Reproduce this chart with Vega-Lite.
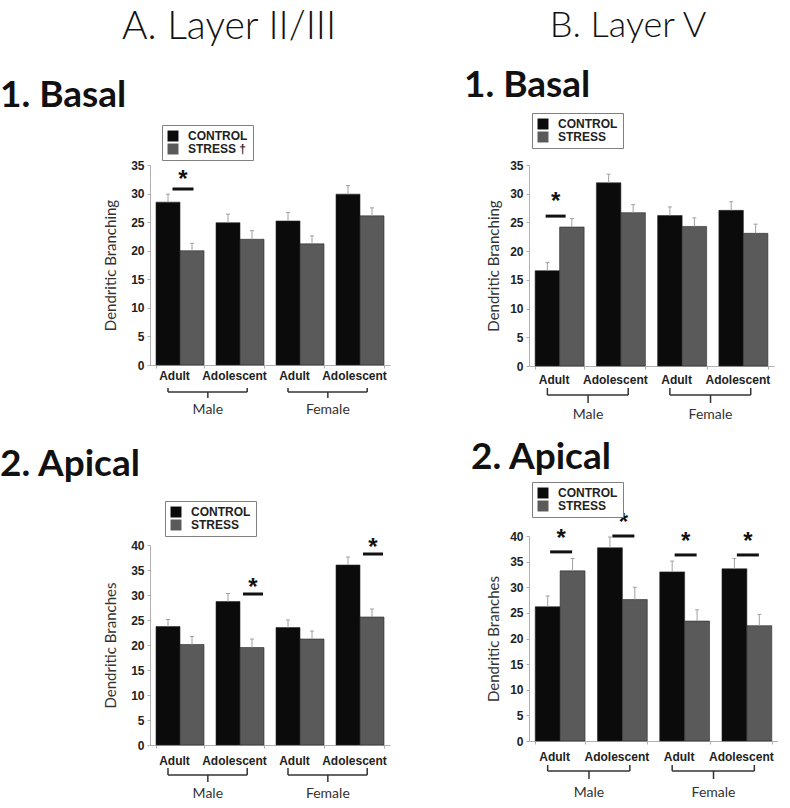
{
  "$schema": "https://vega.github.io/schema/vega-lite/v6.json",
  "background": "white",
  "padding": {"left": 0, "top": 7, "right": 0, "bottom": 0},
  "config": {
    "view": {"stroke": null},
    "font": "Lato",
    "axis": {"domainColor": "#b0b0b0", "tickColor": "#b0b0b0", "tickSize": 3, "labelFont": "Liberation Sans", "labelFontWeight": "bold", "labelFontSize": 12, "labelColor": "#222", "titleFont": "Lato", "titleFontWeight": "normal", "titleFontSize": 15, "titleColor": "#333", "grid": false},
    "axisY": {"labelOverlap": false, "tickCount": 10},
    "tick": {"opacity": 1},
    "legend": {"strokeColor": "#808080", "fillColor": "white", "padding": 5, "symbolType": "square", "symbolSize": 120, "symbolStrokeWidth": 0, "labelFont": "Liberation Sans", "labelFontWeight": "bold", "labelFontSize": 12, "labelColor": "#222", "rowPadding": 1, "labelOffset": 9}
  },
  "datasets": {
    "A1": [
      {"grp": "Male Adult", "cond": "CONTROL", "value": 28.5, "hi": 29.9},
      {"grp": "Male Adult", "cond": "STRESS", "value": 20.0, "hi": 21.3},
      {"grp": "Male Adolescent", "cond": "CONTROL", "value": 24.9, "hi": 26.4},
      {"grp": "Male Adolescent", "cond": "STRESS", "value": 22.0, "hi": 23.5},
      {"grp": "Female Adult", "cond": "CONTROL", "value": 25.2, "hi": 26.7},
      {"grp": "Female Adult", "cond": "STRESS", "value": 21.2, "hi": 22.6},
      {"grp": "Female Adolescent", "cond": "CONTROL", "value": 29.9, "hi": 31.4},
      {"grp": "Female Adolescent", "cond": "STRESS", "value": 26.1, "hi": 27.5}
    ],
    "B1": [
      {"grp": "Male Adult", "cond": "CONTROL", "value": 16.6, "hi": 18.0},
      {"grp": "Male Adult", "cond": "STRESS", "value": 24.2, "hi": 25.7},
      {"grp": "Male Adolescent", "cond": "CONTROL", "value": 31.9, "hi": 33.4},
      {"grp": "Male Adolescent", "cond": "STRESS", "value": 26.7, "hi": 28.1},
      {"grp": "Female Adult", "cond": "CONTROL", "value": 26.2, "hi": 27.7},
      {"grp": "Female Adult", "cond": "STRESS", "value": 24.3, "hi": 25.8},
      {"grp": "Female Adolescent", "cond": "CONTROL", "value": 27.1, "hi": 28.6},
      {"grp": "Female Adolescent", "cond": "STRESS", "value": 23.1, "hi": 24.7}
    ],
    "A2": [
      {"grp": "Male Adult", "cond": "CONTROL", "value": 23.7, "hi": 25.1},
      {"grp": "Male Adult", "cond": "STRESS", "value": 20.1, "hi": 21.7},
      {"grp": "Male Adolescent", "cond": "CONTROL", "value": 28.7, "hi": 30.3},
      {"grp": "Male Adolescent", "cond": "STRESS", "value": 19.5, "hi": 21.2},
      {"grp": "Female Adult", "cond": "CONTROL", "value": 23.5, "hi": 25.0},
      {"grp": "Female Adult", "cond": "STRESS", "value": 21.2, "hi": 22.8},
      {"grp": "Female Adolescent", "cond": "CONTROL", "value": 36.0, "hi": 37.6},
      {"grp": "Female Adolescent", "cond": "STRESS", "value": 25.6, "hi": 27.2}
    ],
    "B2": [
      {"grp": "Male Adult", "cond": "CONTROL", "value": 26.2, "hi": 28.3},
      {"grp": "Male Adult", "cond": "STRESS", "value": 33.2, "hi": 35.6},
      {"grp": "Male Adolescent", "cond": "CONTROL", "value": 37.7, "hi": 39.8},
      {"grp": "Male Adolescent", "cond": "STRESS", "value": 27.6, "hi": 30.0},
      {"grp": "Female Adult", "cond": "CONTROL", "value": 33.0, "hi": 35.1},
      {"grp": "Female Adult", "cond": "STRESS", "value": 23.4, "hi": 25.6},
      {"grp": "Female Adolescent", "cond": "CONTROL", "value": 33.6, "hi": 35.6},
      {"grp": "Female Adolescent", "cond": "STRESS", "value": 22.5, "hi": 24.7}
    ],
    "sigA1": [{"grp": "Male Adult", "y": 30.8}],
    "sigB1": [{"grp": "Male Adult", "y": 26.1}],
    "sigA2": [{"grp": "Male Adolescent", "y": 30.2}, {"grp": "Female Adolescent", "y": 38.2}],
    "sigB2": [{"grp": "Male Adult", "y": 36.9}, {"grp": "Male Adolescent", "y": 40.0}, {"grp": "Female Adult", "y": 36.3}, {"grp": "Female Adolescent", "y": 36.3}],
    "brackets": [
      {"sex": "Male", "from": "Male Adult", "to": "Male Adolescent"},
      {"sex": "Female", "from": "Female Adult", "to": "Female Adolescent"}
    ]
  },
  "resolve": {"scale": {"color": "independent", "x": "independent", "y": "independent", "xOffset": "independent"}, "legend": {"color": "independent"}},
  "spacing": 74,
  "hconcat": [
    {
      "title": {"text": "A. Layer II/III", "fontSize": 39, "font": "Lato", "fontWeight": 300, "color": "#111", "anchor": "middle", "dx": 34, "offset": 30},
      "spacing": 28,
      "resolve": {"scale": {"color": "independent", "x": "independent", "y": "independent", "xOffset": "independent"}, "legend": {"color": "independent"}},
      "vconcat": [
        {
          "width": 240, "height": 200,
          "title": {"text": "1. Basal", "anchor": "start", "frame": "group", "dx": -150, "fontSize": 37, "font": "Lato", "fontWeight": "bold", "color": "#111", "offset": 10},
          "layer": [
            {"data": {"name": "A1"}, "mark": {"type": "bar", "stroke": "#2a2a2a", "strokeWidth": 0.6},
             "encoding": {
               "x": {"field": "grp", "type": "nominal", "scale": {"type": "band", "domain": ["Male Adult", "Male Adolescent", "Female Adult", "Female Adolescent"], "paddingInner": 0.2, "paddingOuter": 0.1},
                     "axis": {"title": null, "labelAngle": 0, "labelExpr": "split(datum.value, ' ')[1]", "tickBand": "extent", "tickOffset": 6, "labelOffset": -6, "labelPadding": 2}},
               "xOffset": {"field": "cond", "type": "nominal", "scale": {"domain": ["CONTROL", "STRESS"], "paddingInner": 0, "paddingOuter": 0}},
               "y": {"field": "value", "type": "quantitative", "scale": {"domain": [0, 35], "nice": false},
                     "axis": {"title": "Dendritic Branching", "values": [0, 5, 10, 15, 20, 25, 30, 35], "tickCount": 10, "labelOverlap": false, "titlePadding": 12, "labelPadding": 3}},
               "color": {"field": "cond", "type": "nominal", "scale": {"domain": ["CONTROL", "STRESS"], "range": ["#0b0b0b", "#5a5a5a"]},
                         "legend": {"orient": "none", "legendX": 12, "legendY": -40, "title": null, "labelExpr": "datum.label == 'STRESS' ? 'STRESS \u2020' : datum.label"}}
             }},
            {"data": {"name": "A1"}, "mark": {"type": "rule", "color": "#a0a0a0", "strokeWidth": 1},
             "encoding": {"x": {"field": "grp", "type": "nominal"}, "xOffset": {"field": "cond", "type": "nominal"}, "y": {"field": "value", "type": "quantitative"}, "y2": {"field": "hi"}}},
            {"data": {"name": "A1"}, "mark": {"type": "tick", "color": "#a0a0a0", "size": 4, "thickness": 1},
             "encoding": {"x": {"field": "grp", "type": "nominal"}, "xOffset": {"field": "cond", "type": "nominal"}, "y": {"field": "hi", "type": "quantitative"}}},
            {"data": {"name": "sigA1"}, "mark": {"type": "tick", "color": "#111", "size": 21, "thickness": 3, "xOffset": 3},
             "encoding": {"x": {"field": "grp", "type": "nominal"}, "y": {"field": "y", "type": "quantitative"}}},
            {"data": {"name": "sigA1"}, "mark": {"type": "text", "text": "*", "font": "Liberation Sans", "fontWeight": "bold", "fontSize": 24, "color": "#111", "baseline": "alphabetic", "dy": -2, "xOffset": 3},
             "encoding": {"x": {"field": "grp", "type": "nominal"}, "y": {"field": "y", "type": "quantitative"}}},
            {"data": {"name": "brackets"}, "mark": {"type": "rule", "color": "#333", "strokeWidth": 1.5, "yOffset": 27},
             "encoding": {"x": {"field": "from", "type": "nominal", "bandPosition": 0.25}, "x2": {"field": "to", "bandPosition": 0.65}, "y": {"datum": 0}}},
            {"data": {"name": "brackets"}, "mark": {"type": "rule", "color": "#333", "strokeWidth": 1.5, "yOffset": 23, "y2Offset": 27},
             "encoding": {"x": {"field": "from", "type": "nominal", "bandPosition": 0.25}, "y": {"datum": 0}, "y2": {"datum": 0}}},
            {"data": {"name": "brackets"}, "mark": {"type": "rule", "color": "#333", "strokeWidth": 1.5, "yOffset": 23, "y2Offset": 27},
             "encoding": {"x": {"field": "to", "type": "nominal", "bandPosition": 0.65}, "y": {"datum": 0}, "y2": {"datum": 0}}},
            {"data": {"name": "brackets"}, "mark": {"type": "rule", "color": "#333", "strokeWidth": 1.5, "yOffset": 27, "y2Offset": 33},
             "encoding": {"x": {"field": "from", "type": "nominal", "bandPosition": 1.08}, "y": {"datum": 0}, "y2": {"datum": 0}}},
            {"data": {"name": "brackets"}, "mark": {"type": "text", "font": "Lato", "fontSize": 14, "color": "#333", "baseline": "middle", "dy": 45},
             "encoding": {"x": {"field": "from", "type": "nominal", "bandPosition": 1.08}, "y": {"datum": 0}, "text": {"field": "sex"}}}
          ]
        },
        {
          "width": 240, "height": 200,
          "title": {"text": "2. Apical", "anchor": "start", "frame": "group", "dx": -150, "fontSize": 37, "font": "Lato", "fontWeight": "bold", "color": "#111", "offset": 17},
          "layer": [
            {"data": {"name": "A2"}, "mark": {"type": "bar", "stroke": "#2a2a2a", "strokeWidth": 0.6},
             "encoding": {
               "x": {"field": "grp", "type": "nominal", "scale": {"type": "band", "domain": ["Male Adult", "Male Adolescent", "Female Adult", "Female Adolescent"], "paddingInner": 0.2, "paddingOuter": 0.1},
                     "axis": {"title": null, "labelAngle": 0, "labelExpr": "split(datum.value, ' ')[1]", "tickBand": "extent", "tickOffset": 6, "labelOffset": -6, "labelPadding": 7}},
               "xOffset": {"field": "cond", "type": "nominal", "scale": {"domain": ["CONTROL", "STRESS"], "paddingInner": 0, "paddingOuter": 0}},
               "y": {"field": "value", "type": "quantitative", "scale": {"domain": [0, 40], "nice": false},
                     "axis": {"title": "Dendritic Branches", "values": [0, 5, 10, 15, 20, 25, 30, 35, 40], "tickCount": 10, "labelOverlap": false, "titlePadding": 12, "labelPadding": 3}},
               "color": {"field": "cond", "type": "nominal", "scale": {"domain": ["CONTROL", "STRESS"], "range": ["#0b0b0b", "#5a5a5a"]},
                         "legend": {"orient": "none", "legendX": 15, "legendY": -44, "title": null}}
             }},
            {"data": {"name": "A2"}, "mark": {"type": "rule", "color": "#a0a0a0", "strokeWidth": 1},
             "encoding": {"x": {"field": "grp", "type": "nominal"}, "xOffset": {"field": "cond", "type": "nominal"}, "y": {"field": "value", "type": "quantitative"}, "y2": {"field": "hi"}}},
            {"data": {"name": "A2"}, "mark": {"type": "tick", "color": "#a0a0a0", "size": 4, "thickness": 1},
             "encoding": {"x": {"field": "grp", "type": "nominal"}, "xOffset": {"field": "cond", "type": "nominal"}, "y": {"field": "hi", "type": "quantitative"}}},
            {"data": {"name": "sigA2"}, "mark": {"type": "tick", "color": "#111", "size": 20, "thickness": 3, "xOffset": 13},
             "encoding": {"x": {"field": "grp", "type": "nominal"}, "y": {"field": "y", "type": "quantitative"}}},
            {"data": {"name": "sigA2"}, "mark": {"type": "text", "text": "*", "font": "Liberation Sans", "fontWeight": "bold", "fontSize": 24, "color": "#111", "baseline": "alphabetic", "dy": 1, "xOffset": 13},
             "encoding": {"x": {"field": "grp", "type": "nominal"}, "y": {"field": "y", "type": "quantitative"}}},
            {"data": {"name": "brackets"}, "mark": {"type": "rule", "color": "#333", "strokeWidth": 1.5, "yOffset": 30},
             "encoding": {"x": {"field": "from", "type": "nominal", "bandPosition": 0.25}, "x2": {"field": "to", "bandPosition": 0.65}, "y": {"datum": 0}}},
            {"data": {"name": "brackets"}, "mark": {"type": "rule", "color": "#333", "strokeWidth": 1.5, "yOffset": 23, "y2Offset": 30},
             "encoding": {"x": {"field": "from", "type": "nominal", "bandPosition": 0.25}, "y": {"datum": 0}, "y2": {"datum": 0}}},
            {"data": {"name": "brackets"}, "mark": {"type": "rule", "color": "#333", "strokeWidth": 1.5, "yOffset": 23, "y2Offset": 30},
             "encoding": {"x": {"field": "to", "type": "nominal", "bandPosition": 0.65}, "y": {"datum": 0}, "y2": {"datum": 0}}},
            {"data": {"name": "brackets"}, "mark": {"type": "rule", "color": "#333", "strokeWidth": 1.5, "yOffset": 30, "y2Offset": 37},
             "encoding": {"x": {"field": "from", "type": "nominal", "bandPosition": 1.08}, "y": {"datum": 0}, "y2": {"datum": 0}}},
            {"data": {"name": "brackets"}, "mark": {"type": "text", "font": "Lato", "fontSize": 14, "color": "#333", "baseline": "middle", "dy": 49},
             "encoding": {"x": {"field": "from", "type": "nominal", "bandPosition": 1.08}, "y": {"datum": 0}, "text": {"field": "sex"}}}
          ]
        }
      ]
    },
    {
      "title": {"text": "B. Layer V", "fontSize": 36, "font": "Lato", "fontWeight": 300, "color": "#111", "anchor": "middle", "dx": 7, "offset": 22},
      "spacing": 16,
      "resolve": {"scale": {"color": "independent", "x": "independent", "y": "independent", "xOffset": "independent"}, "legend": {"color": "independent"}},
      "vconcat": [
        {
          "width": 245, "height": 201,
          "title": {"text": "1. Basal", "anchor": "start", "frame": "group", "dx": -65, "fontSize": 37, "font": "Lato", "fontWeight": "bold", "color": "#111", "offset": 8},
          "layer": [
            {"data": {"name": "B1"}, "mark": {"type": "bar", "stroke": "#2a2a2a", "strokeWidth": 0.6},
             "encoding": {
               "x": {"field": "grp", "type": "nominal", "scale": {"type": "band", "domain": ["Male Adult", "Male Adolescent", "Female Adult", "Female Adolescent"], "paddingInner": 0.2, "paddingOuter": 0.1},
                     "axis": {"title": null, "labelAngle": 0, "labelExpr": "split(datum.value, ' ')[1]", "tickBand": "extent", "tickOffset": 6, "labelOffset": -6, "labelPadding": 5}},
               "xOffset": {"field": "cond", "type": "nominal", "scale": {"domain": ["CONTROL", "STRESS"], "paddingInner": 0, "paddingOuter": 0}},
               "y": {"field": "value", "type": "quantitative", "scale": {"domain": [0, 35], "nice": false},
                     "axis": {"title": "Dendritic Branching", "values": [0, 5, 10, 15, 20, 25, 30, 35], "tickCount": 10, "labelOverlap": false, "titlePadding": 8, "labelPadding": 3}},
               "color": {"field": "cond", "type": "nominal", "scale": {"domain": ["CONTROL", "STRESS"], "range": ["#0b0b0b", "#5a5a5a"]},
                         "legend": {"orient": "none", "legendX": 3, "legendY": -52, "title": null}}
             }},
            {"data": {"name": "B1"}, "mark": {"type": "rule", "color": "#a0a0a0", "strokeWidth": 1},
             "encoding": {"x": {"field": "grp", "type": "nominal"}, "xOffset": {"field": "cond", "type": "nominal"}, "y": {"field": "value", "type": "quantitative"}, "y2": {"field": "hi"}}},
            {"data": {"name": "B1"}, "mark": {"type": "tick", "color": "#a0a0a0", "size": 4, "thickness": 1},
             "encoding": {"x": {"field": "grp", "type": "nominal"}, "xOffset": {"field": "cond", "type": "nominal"}, "y": {"field": "hi", "type": "quantitative"}}},
            {"data": {"name": "sigB1"}, "mark": {"type": "tick", "color": "#111", "size": 20, "thickness": 3, "xOffset": -4},
             "encoding": {"x": {"field": "grp", "type": "nominal"}, "y": {"field": "y", "type": "quantitative"}}},
            {"data": {"name": "sigB1"}, "mark": {"type": "text", "text": "*", "font": "Liberation Sans", "fontWeight": "bold", "fontSize": 24, "color": "#111", "baseline": "alphabetic", "dy": -7, "xOffset": -4},
             "encoding": {"x": {"field": "grp", "type": "nominal"}, "y": {"field": "y", "type": "quantitative"}}},
            {"data": {"name": "brackets"}, "mark": {"type": "rule", "color": "#333", "strokeWidth": 1.5, "yOffset": 29},
             "encoding": {"x": {"field": "from", "type": "nominal", "bandPosition": 0.25}, "x2": {"field": "to", "bandPosition": 0.65}, "y": {"datum": 0}}},
            {"data": {"name": "brackets"}, "mark": {"type": "rule", "color": "#333", "strokeWidth": 1.5, "yOffset": 22, "y2Offset": 29},
             "encoding": {"x": {"field": "from", "type": "nominal", "bandPosition": 0.25}, "y": {"datum": 0}, "y2": {"datum": 0}}},
            {"data": {"name": "brackets"}, "mark": {"type": "rule", "color": "#333", "strokeWidth": 1.5, "yOffset": 22, "y2Offset": 29},
             "encoding": {"x": {"field": "to", "type": "nominal", "bandPosition": 0.65}, "y": {"datum": 0}, "y2": {"datum": 0}}},
            {"data": {"name": "brackets"}, "mark": {"type": "rule", "color": "#333", "strokeWidth": 1.5, "yOffset": 29, "y2Offset": 37},
             "encoding": {"x": {"field": "from", "type": "nominal", "bandPosition": 1.08}, "y": {"datum": 0}, "y2": {"datum": 0}}},
            {"data": {"name": "brackets"}, "mark": {"type": "text", "font": "Lato", "fontSize": 14, "color": "#333", "baseline": "middle", "dy": 49},
             "encoding": {"x": {"field": "from", "type": "nominal", "bandPosition": 1.08}, "y": {"datum": 0}, "text": {"field": "sex"}}}
          ]
        },
        {
          "width": 249, "height": 205,
          "title": {"text": "2. Apical", "anchor": "start", "frame": "group", "dx": -58, "fontSize": 37, "font": "Lato", "fontWeight": "bold", "color": "#111", "offset": 5},
          "layer": [
            {"data": {"name": "B2"}, "mark": {"type": "bar", "stroke": "#2a2a2a", "strokeWidth": 0.6},
             "encoding": {
               "x": {"field": "grp", "type": "nominal", "scale": {"type": "band", "domain": ["Male Adult", "Male Adolescent", "Female Adult", "Female Adolescent"], "paddingInner": 0.2, "paddingOuter": 0.1},
                     "axis": {"title": null, "labelAngle": 0, "labelExpr": "split(datum.value, ' ')[1]", "tickBand": "extent", "tickOffset": 6, "labelOffset": -6, "labelPadding": 7}},
               "xOffset": {"field": "cond", "type": "nominal", "scale": {"domain": ["CONTROL", "STRESS"], "paddingInner": 0, "paddingOuter": 0}},
               "y": {"field": "value", "type": "quantitative", "scale": {"domain": [0, 40], "nice": false},
                     "axis": {"title": "Dendritic Branches", "values": [0, 5, 10, 15, 20, 25, 30, 35, 40], "tickCount": 10, "labelOverlap": false, "titlePadding": 8, "labelPadding": 3}},
               "color": {"field": "cond", "type": "nominal", "scale": {"domain": ["CONTROL", "STRESS"], "range": ["#0b0b0b", "#5a5a5a"]},
                         "legend": {"orient": "none", "legendX": 3, "legendY": -54, "title": null}}
             }},
            {"data": {"name": "B2"}, "mark": {"type": "rule", "color": "#a0a0a0", "strokeWidth": 1},
             "encoding": {"x": {"field": "grp", "type": "nominal"}, "xOffset": {"field": "cond", "type": "nominal"}, "y": {"field": "value", "type": "quantitative"}, "y2": {"field": "hi"}}},
            {"data": {"name": "B2"}, "mark": {"type": "tick", "color": "#a0a0a0", "size": 4, "thickness": 1},
             "encoding": {"x": {"field": "grp", "type": "nominal"}, "xOffset": {"field": "cond", "type": "nominal"}, "y": {"field": "hi", "type": "quantitative"}}},
            {"data": {"name": "sigB2"}, "mark": {"type": "tick", "color": "#111", "size": 22, "thickness": 3, "xOffset": 1},
             "encoding": {"x": {"field": "grp", "type": "nominal"}, "y": {"field": "y", "type": "quantitative"}}},
            {"data": {"name": "sigB2"}, "mark": {"type": "text", "text": "*", "font": "Liberation Sans", "fontWeight": "bold", "fontSize": 24, "color": "#111", "baseline": "alphabetic", "dy": -6, "xOffset": 1},
             "encoding": {"x": {"field": "grp", "type": "nominal"}, "y": {"field": "y", "type": "quantitative"}}},
            {"data": {"name": "brackets"}, "mark": {"type": "rule", "color": "#333", "strokeWidth": 1.5, "yOffset": 30},
             "encoding": {"x": {"field": "from", "type": "nominal", "bandPosition": 0.25}, "x2": {"field": "to", "bandPosition": 0.65}, "y": {"datum": 0}}},
            {"data": {"name": "brackets"}, "mark": {"type": "rule", "color": "#333", "strokeWidth": 1.5, "yOffset": 24, "y2Offset": 30},
             "encoding": {"x": {"field": "from", "type": "nominal", "bandPosition": 0.25}, "y": {"datum": 0}, "y2": {"datum": 0}}},
            {"data": {"name": "brackets"}, "mark": {"type": "rule", "color": "#333", "strokeWidth": 1.5, "yOffset": 24, "y2Offset": 30},
             "encoding": {"x": {"field": "to", "type": "nominal", "bandPosition": 0.65}, "y": {"datum": 0}, "y2": {"datum": 0}}},
            {"data": {"name": "brackets"}, "mark": {"type": "rule", "color": "#333", "strokeWidth": 1.5, "yOffset": 30, "y2Offset": 38},
             "encoding": {"x": {"field": "from", "type": "nominal", "bandPosition": 1.08}, "y": {"datum": 0}, "y2": {"datum": 0}}},
            {"data": {"name": "brackets"}, "mark": {"type": "text", "font": "Lato", "fontSize": 14, "color": "#333", "baseline": "middle", "dy": 52},
             "encoding": {"x": {"field": "from", "type": "nominal", "bandPosition": 1.08}, "y": {"datum": 0}, "text": {"field": "sex"}}}
          ]
        }
      ]
    }
  ]
}
